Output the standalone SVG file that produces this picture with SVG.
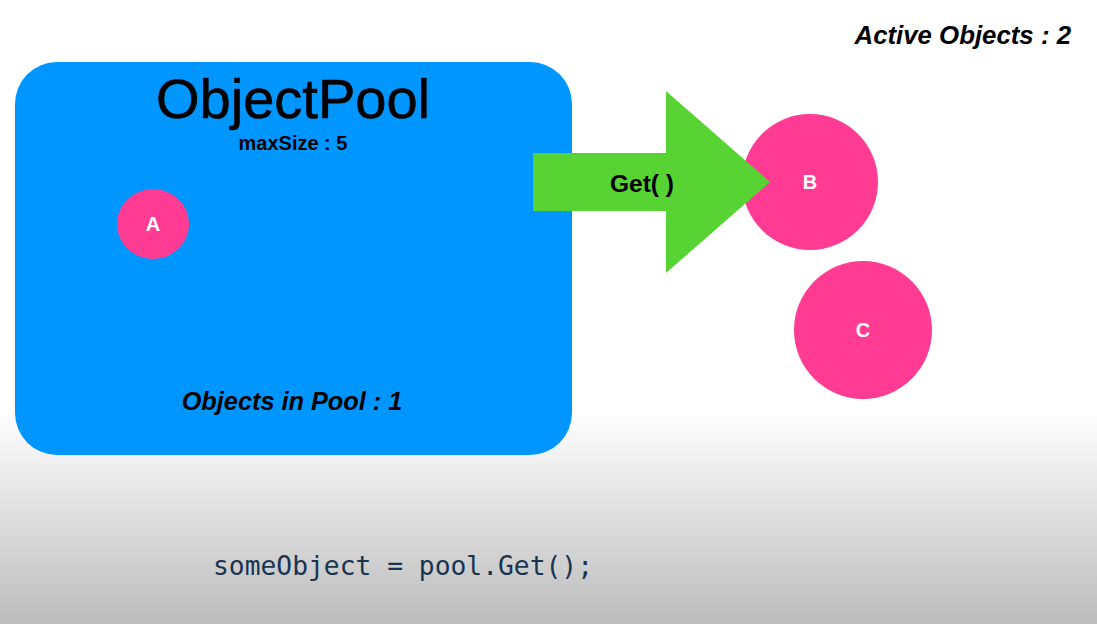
<svg xmlns="http://www.w3.org/2000/svg" width="1097" height="624" viewBox="0 0 1097 624">
<defs>
<linearGradient id="bg" x1="0" y1="0" x2="0" y2="1">
<stop offset="0" stop-color="#ffffff"/>
<stop offset="0.66" stop-color="#ffffff"/>
<stop offset="1" stop-color="#bcbcbc"/>
</linearGradient>
<style>
.obj{fill:#ff3b93}
.olbl{font-family:"Liberation Sans",Arial,sans-serif;font-weight:bold;font-size:20px;fill:#ffffff;text-anchor:middle}
.sans{font-family:"Liberation Sans",Arial,sans-serif;fill:#000000}
</style>
</defs>
<rect x="0" y="0" width="1097" height="624" fill="url(#bg)"/>
<text class="sans" x="1071" y="44" font-size="25.8" font-weight="bold" font-style="italic" text-anchor="end">Active Objects : 2</text>
<g id="pool">
<rect x="15" y="62" width="557" height="393" rx="42" ry="42" fill="#0096ff"/>
<text class="sans" x="293" y="118" font-size="56" text-anchor="middle" stroke="#000" stroke-width="0.6">ObjectPool</text>
<text class="sans" x="293" y="150" font-size="20" font-weight="bold" text-anchor="middle">maxSize : 5</text>
<text class="sans" x="292" y="410" font-size="25.3" font-weight="bold" font-style="italic" text-anchor="middle">Objects in Pool : 1</text>
</g>
<g id="objA">
<ellipse class="obj" cx="153" cy="224" rx="36" ry="35"/>
<text class="olbl" x="153" y="231">A</text>
</g>
<g id="objB">
<circle class="obj" cx="810" cy="182" r="68"/>
<text class="olbl" x="810" y="189">B</text>
</g>
<g id="objC">
<circle class="obj" cx="863" cy="330" r="69"/>
<text class="olbl" x="863" y="337">C</text>
</g>
<g id="connectors">
<polygon points="533,153 666,153 666,91 770,182 666,273 666,211 533,211" fill="#57d334"/>
<text class="sans" x="642" y="192" font-size="24.5" font-weight="bold" text-anchor="middle">Get( )</text>
</g>
<text x="213" y="575" font-family="'DejaVu Sans Mono',monospace" font-size="26.3" fill="#173450">someObject = pool.Get();</text>
</svg>
